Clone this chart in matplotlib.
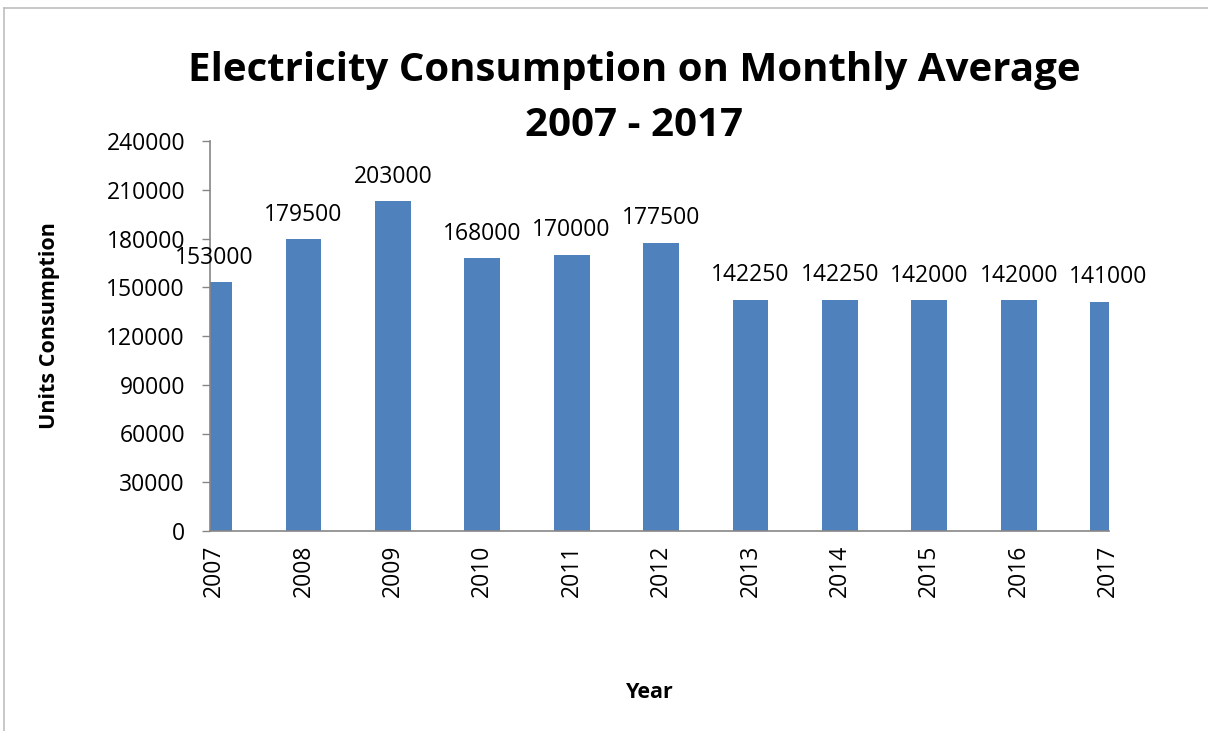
import numpy as np
import matplotlib
matplotlib.use('Agg')
import matplotlib.pyplot as plt
from matplotlib.lines import Line2D

plt.rcParams['font.family'] = ['Open Sans', 'DejaVu Sans']

years = ['2007', '2008', '2009', '2010', '2011', '2012',
         '2013', '2014', '2015', '2016', '2017']
units = [153000, 179500, 203000, 168000, 170000, 177500,
         142250, 142250, 142000, 142000, 141000]
y_ticks = [0, 30000, 60000, 90000, 120000, 150000, 180000, 210000, 240000]

bar_color = '#4F81BD'
axis_color = '#868686'

fig = plt.figure(figsize=(12.08, 7.31), dpi=100)

# chart area border (Excel style), only top and left edges show
top = 1 - 8 / 731
left = 4 / 1208
fig.lines.append(Line2D([left, 1.0], [top, top], transform=fig.transFigure,
                        color='#BFBFBF', linewidth=1.2))
fig.lines.append(Line2D([left, left], [0.0, top], transform=fig.transFigure,
                        color='#BFBFBF', linewidth=1.2))

ax = fig.add_axes([210 / 1208, 1 - 531 / 731, (1109 - 210) / 1208, (531 - 141) / 731])

x_pos = np.arange(len(years))
ax.bar(x_pos, units, width=0.4, color=bar_color, zorder=2)

for x, v in zip(x_pos, units):
    ax.annotate(str(v), (x, v), xytext=(0, 9), textcoords='offset points',
                ha='center', va='bottom', fontsize=16.5, clip_on=False)

ax.set_xlim(-0.045, 10.01)
ax.set_ylim(0, 240000)
ax.set_yticks(y_ticks)
ax.set_yticklabels([str(t) for t in y_ticks], fontsize=16.5)
ax.set_xticks(x_pos)
ax.set_xticklabels(years, rotation=90, fontsize=16.5)

ax.tick_params(axis='y', direction='out', length=6, width=1, color=axis_color, pad=12)
ax.tick_params(axis='x', length=0, pad=10)

for side in ['top', 'right']:
    ax.spines[side].set_visible(False)
ax.spines['left'].set_color(axis_color)
ax.spines['bottom'].set_color(axis_color)
ax.spines['left'].set_linewidth(1.2)
ax.spines['bottom'].set_linewidth(1.2)

fig.text(634 / 1208, 1 - 70 / 731, 'Electricity Consumption on Monthly Average',
         ha='center', va='center', fontsize=29, fontweight='bold')
fig.text(634 / 1208, 1 - 126 / 731, '2007 - 2017',
         ha='center', va='center', fontsize=29, fontweight='bold')

fig.text(50 / 1208, 1 - 326 / 731, 'Units Consumption', rotation=90,
         ha='center', va='center', fontsize=15.5, fontweight='bold')
fig.text(650 / 1208, 1 - 693 / 731, 'Year',
         ha='center', va='center', fontsize=15.5, fontweight='bold')

fig.savefig('out.png', dpi=100)
